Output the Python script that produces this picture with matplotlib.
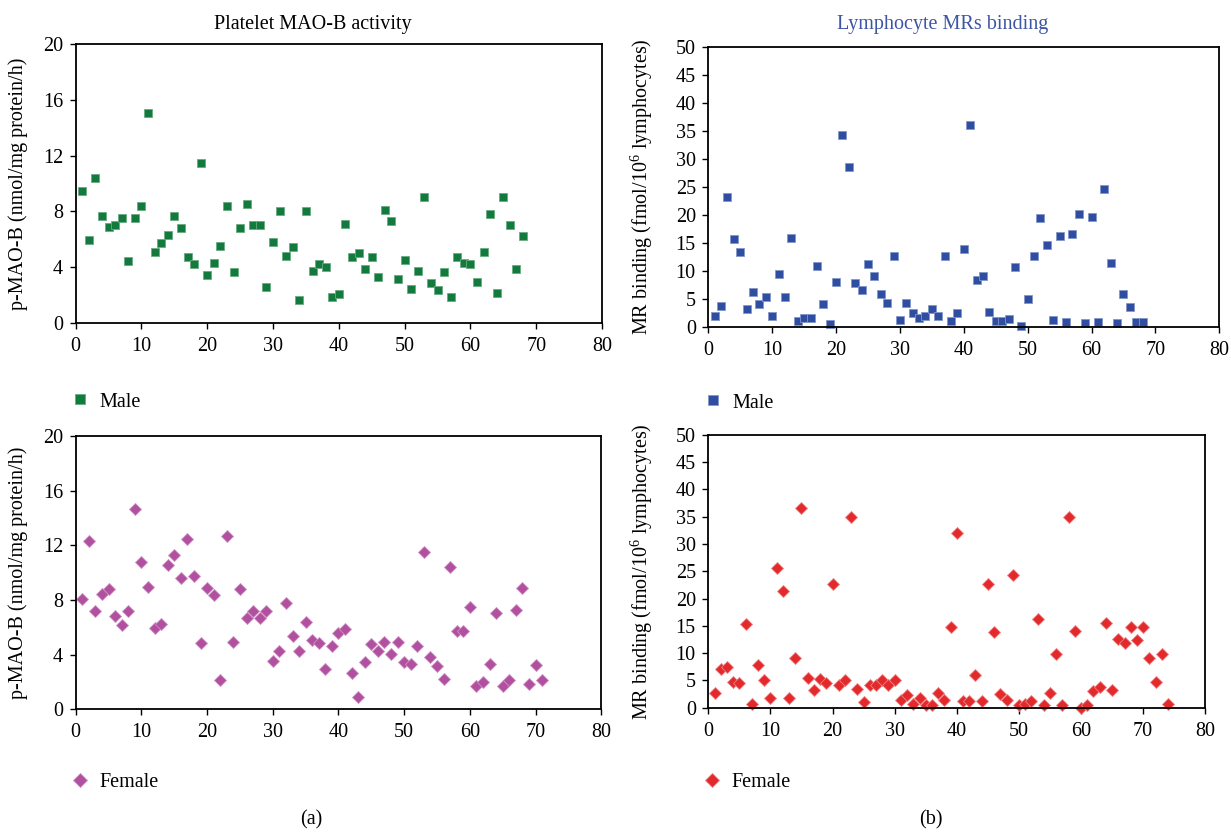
import numpy as np
import matplotlib
matplotlib.use("Agg")
import matplotlib.pyplot as plt

plt.rcParams["font.family"] = ["Liberation Serif", "DejaVu Serif"]
plt.rcParams["mathtext.fontset"] = "custom"
plt.rcParams["mathtext.rm"] = "Liberation Serif"
plt.rcParams["mathtext.default"] = "regular"

# values, one per subject (subject number = position)
male_mao = [9.48, 5.93, 10.4, 7.69, 6.9, 7.02, 7.5, 4.43, 7.5, 8.4, 15.05, 5.12, 5.74,
            6.33, 7.69, 6.81, 4.74, 4.24, 11.48, 3.45, 4.33, 5.52, 8.4, 3.64, 6.83, 8.5,
            7.02, 7.02, 2.57, 5.81, 8.0, 4.83, 5.43, 1.67, 8.0, 3.74, 4.24, 4.05, 1.86,
            2.07, 7.12, 4.74, 5.05, 3.86, 4.74, 3.33, 8.12, 7.31, 3.14, 4.52, 2.45, 3.74,
            9.0, 2.86, 2.36, 3.64, 1.86, 4.74, 4.33, 4.24, 2.95, 5.12, 7.81, 2.17, 9.0,
            7.02, 3.86, 6.21]
female_mao = [8.07, 12.29, 7.17, 8.46, 8.78, 6.85, 6.17, 7.17, 14.63, 10.78, 8.98, 5.98,
              6.27, 10.59, 11.29, 9.59, 12.49, 9.76, 4.85, 8.88, 8.37, 2.15, 12.71, 4.95,
              8.78, 6.66, 7.17, 6.66, 7.17, 3.54, 4.24, 7.76, 5.37, 4.24, 6.37, 5.05, 4.85,
              2.93, 4.66, 5.56, 5.88, 2.66, 0.93, 3.44, 4.76, 4.24, 4.95, 4.05, 4.95, 3.44,
              3.34, 4.66, 11.49, 3.85, 3.15, 2.22, 10.39, 5.76, 5.76, 7.46, 1.73, 2.02,
              3.34, 7.05, 1.73, 2.12, 7.27, 8.88, 1.83, 3.24, 2.12]
male_mr = [1.97, 3.76, 23.27, 15.63, 13.37, 3.22, 6.26, 4.0, 5.25, 1.97, 9.49, 5.25, 15.87,
           0.95, 1.49, 1.49, 10.8, 4.0, 0.48, 8.05, 34.37, 28.5, 7.76, 6.5, 11.28, 9.07,
           5.79, 4.24, 12.59, 1.25, 4.24, 2.5, 1.49, 1.97, 3.22, 1.97, 12.59, 0.95, 2.5,
           13.84, 36.04, 8.29, 9.07, 2.68, 0.95, 0.95, 1.43, 10.62, 0.18, 5.0, 12.59, 19.45,
           14.6, 1.19, 16.17, 0.84, 16.65, 20.17, 0.72, 19.69, 0.84, 24.7, 11.34, 0.66,
           5.79, 3.46, 0.84, 0.84]
female_mr = [2.75, 7.02, 7.51, 4.76, 4.46, 15.32, 0.73, 7.75, 5.0, 1.77, 25.58, 21.3, 1.77,
             9.04, 36.63, 5.49, 3.24, 5.25, 4.46, 22.59, 4.21, 5.0, 34.86, 3.48, 0.98, 4.21,
             4.21, 5.0, 4.21, 5.0, 1.47, 2.26, 0.73, 1.77, 0.49, 0.49, 2.75, 1.47, 14.77,
             31.93, 1.22, 1.22, 5.98, 1.22, 22.59, 13.8, 2.5, 1.47, 24.3, 0.49, 0.73, 1.22,
             16.3, 0.49, 2.69, 9.77, 0.49, 34.92, 14.04, 0.0, 0.49, 3.0, 3.85, 15.57, 3.24,
             12.58, 11.78, 14.77, 12.33, 14.77, 9.04, 4.76, 9.77, 0.73]

W, H = 1231, 833
fig = plt.figure(figsize=(W / 100, H / 100), dpi=100)


def box(l, t, r, b):
    return [l / W, 1 - b / H, (r - l) / W, (b - t) / H]


panels = [
    # data, rect, marker, color, edge, label, ylim, yticks, ylabel, label x, legend anchor
    (male_mao, box(75.7, 44, 602, 323), "s", "#127a3c", "#6aac83", "Male",
     20, np.arange(0, 21, 4), "p-MAO-B (nmol/mg protein/h)", 28, (72, 402)),
    (female_mao, box(75.7, 436, 601.3, 709.3), "D", "#b0509f", "#cf8fc3", "Female",
     20, np.arange(0, 21, 4), "p-MAO-B (nmol/mg protein/h)", 28, (72, 782)),
    (male_mr, box(708.3, 47.3, 1219.3, 326.7), "s", "#2f4ea2", "#8497cb", "Male",
     50, np.arange(0, 51, 5), r"MR binding (fmol/10$^{6}$ lymphocytes)", 655, (705, 403)),
    (female_mr, box(708.3, 434.7, 1205.3, 707.7), "D", "#e2292b", "#ee8283", "Female",
     50, np.arange(0, 51, 5), r"MR binding (fmol/10$^{6}$ lymphocytes)", 655, (704, 782)),
]

for vals, rect, mk, col, edge, lab, ymax, yt, ylab, labx, leg in panels:
    ax = fig.add_axes(rect)
    subj = np.arange(1, len(vals) + 1)
    ms = 6.2 if mk == "s" else 5.8
    ax.plot(subj, vals, linestyle="none", marker=mk, markersize=ms, color=col,
            markeredgecolor=edge, markeredgewidth=0.6, label=lab, clip_on=False)
    ax.set_xlim(0, 80)
    ax.set_ylim(0, ymax)
    ax.set_xticks(np.arange(0, 81, 10))
    ax.set_yticks(yt)
    ax.tick_params(labelsize=14.5, length=4, width=1, direction="out", colors="black")
    ax.tick_params(axis="x", pad=6)
    ax.tick_params(axis="y", pad=5)
    for s in ax.spines.values():
        s.set_linewidth(1.3)
    axw = rect[2] * W
    ax.set_ylabel(ylab, fontsize=14.5)
    ax.yaxis.set_label_coords((labx - rect[0] * W) / axw, 0.5)
    ax.legend(loc="center left", bbox_to_anchor=(leg[0] / W, 1 - leg[1] / H),
              bbox_transform=fig.transFigure, frameon=False, fontsize=14.5,
              handlelength=0.8, handletextpad=0.55, borderpad=0, borderaxespad=0,
              markerscale=1.25)

fig.text(313 / W, 1 - 25 / H, "Platelet MAO-B activity", ha="center", va="center",
         fontsize=14.5)
fig.text(943 / W, 1 - 25 / H, "Lymphocyte MRs binding", ha="center", va="center",
         fontsize=14.5, color="#3d55a5")
fig.text(311 / W, 1 - 820 / H, "(a)", ha="center", va="center", fontsize=14.5)
fig.text(931 / W, 1 - 820 / H, "(b)", ha="center", va="center", fontsize=14.5)

fig.savefig("out.png", dpi=100)
